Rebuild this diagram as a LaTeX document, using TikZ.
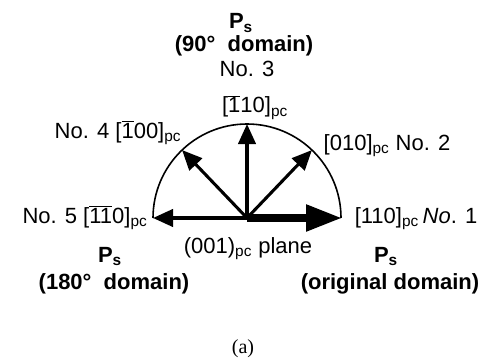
\documentclass[tikz,border=0pt]{standalone}
\usepackage{fontspec}
\setmainfont{Liberation Sans}
\newfontfamily\capfont{Liberation Serif}
\usetikzlibrary{arrows.meta,calc}
\newcommand\ob[1]{\mbox{$\overline{\mbox{#1}}$}}
\tikzset{
  lbl/.style={inner sep=0pt, anchor=base, font=\fontsize{16.5}{19}\selectfont},
  blbl/.style={inner sep=0pt, anchor=base, font=\fontsize{16.5}{19}\selectfont\bfseries},
  thin arrow/.style={line width=2.3pt, -{Triangle[length=15pt,width=13pt]}},
  thick arrow/.style={line width=5.5pt, -{Triangle[length=27pt,width=19pt]}},
}
\begin{document}
\begin{tikzpicture}[x=0.75pt,y=0.75pt]
\useasboundingbox (0,0) rectangle (491,361);
\coordinate (O) at (247,143);
\coordinate (t1) at ($(O)+(0:95)$);
\coordinate (t2) at ($(O)+(46.3:94)$);
\coordinate (t3) at ($(O)+(90:94)$);
\coordinate (t4) at ($(O)+(133.7:94)$);
\coordinate (t5) at ($(O)+(180:94)$);
\draw[line width=1.2pt] (t5) arc (180:0:94);
\draw[thin arrow] (O) -- (t2);
\draw[thin arrow] (O) -- (t3);
\draw[thin arrow] (O) -- (t4);
\draw[thin arrow] (O) -- (t5);
\draw[thick arrow] (O) -- (t1);
% labels
\node[blbl] (ps3) at (241,332) {P\textsubscript{s}};
\node[blbl] (d90) at (244,309) {(90°\ \ domain)};
\node[lbl] (n3) at (247,284) {No. 3};
\node[lbl] (l3) at (255,248) {[\ob{1}10]\textsubscript{pc}};
\node[lbl] (l4) at (118,223) {No. 4 [\ob{1}00]\textsubscript{pc}};
\node[lbl] (l2) at (387,211) {[010]\textsubscript{pc} No. 2};
\node[lbl] (l5) at (85,138) {No. 5 [\ob{11}0]\textsubscript{pc}};
\node[lbl] (l1) at (416,138) {[110]\textsubscript{pc}\,\textit{No}. 1};
\node[lbl] (pl) at (248,108) {(001)\textsubscript{pc} plane};
\node[blbl] (ps5) at (110,99) {P\textsubscript{s}};
\node[blbl] (d180) at (114,72) {(180°\ \ domain)};
\node[blbl] (ps1) at (386,99) {P\textsubscript{s}};
\node[blbl] (dor) at (390,72) {(original domain)};
\node[inner sep=0pt, anchor=base, font=\capfont\fontsize{15}{17}\selectfont] (cap) at (243,8) {(a)};
\end{tikzpicture}
\end{document}
